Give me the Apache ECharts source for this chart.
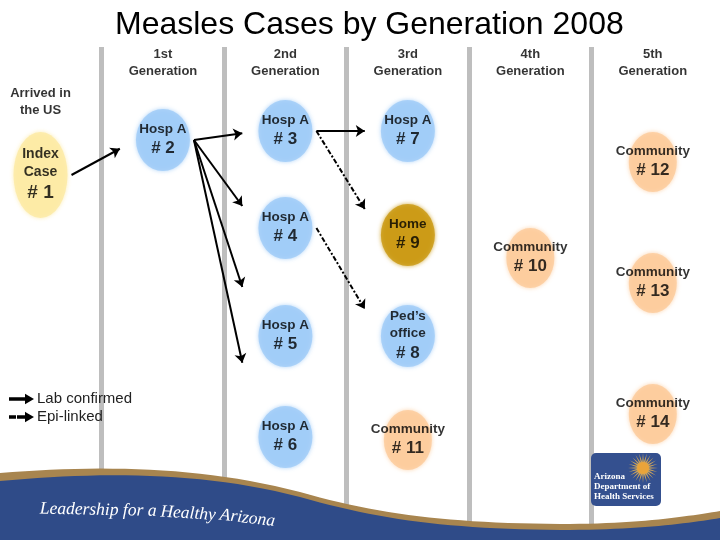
<!DOCTYPE html>
<html><head><meta charset="utf-8">
<script src="https://cdn.jsdelivr.net/npm/echarts/dist/echarts.min.js"></script>
<style>html,body{margin:0;padding:0;background:#fff}#c{width:720px;height:540px}</style>
</head><body><div id="c"></div>
<script>
// ---------- data ----------
const chartTitle = 'Measles Cases by Generation 2008';
const generationLabels = ['Arrived in\nthe US', '1st\nGeneration', '2nd\nGeneration', '3rd\nGeneration', '4th\nGeneration', '5th\nGeneration'];
const generationIndex = [0, 1, 2, 3, 4, 5];
const caseNumbers = [1, 2, 3, 4, 5, 6, 7, 8, 9, 10, 11, 12, 13, 14];
const caseSites = ['Index Case', 'Hosp A', 'Hosp A', 'Hosp A', 'Hosp A', 'Hosp A', 'Hosp A', 'Ped\u2019s office', 'Home', 'Community', 'Community', 'Community', 'Community', 'Community'];
const caseGenerations = [0, 1, 2, 2, 2, 2, 3, 3, 3, 4, 3, 5, 5, 5];
const caseLanes = [175, 140, 131, 228, 336, 437, 131, 336, 235, 258, 440, 162, 283, 414]; // vertical lane in diagram
const labConfirmedLinks = [[1, 2], [2, 3], [2, 4], [2, 5], [2, 6], [3, 7]];
const epiLinkedLinks = [[3, 9], [4, 8]];
const legendNames = ['Lab confirmed', 'Epi-linked'];

// ---------- styles ----------
const siteStyle = {
  'Index Case': { color: '#FCEAA2', size: [54, 86], s: 14, n: 19 },
  'Hosp A': { color: '#9ECBF8', size: [54, 62], s: 13.5, n: 17 },
  'Ped\u2019s office': { color: '#9ECBF8', size: [54, 62], s: 13.5, n: 17 },
  'Home': { color: '#C9970E', size: [54, 62], s: 13.5, n: 17 },
  'Community': { color: '#FDCA9A', size: [48, 60], s: 13.5, n: 17 }
};
const FONT = '"Liberation Sans", Arial, Helvetica, sans-serif';
const X_MIN = -0.3307, X_MAX = 5.5488;
const HEADER_LANE_TOP = 63, HEADER_LANE_ARRIVED = 102, SEP_TOP = 47, SEP_BOTTOM = 540;

const chart = echarts.init(document.getElementById('c'), null, { renderer: 'canvas' });

const nodeData = caseNumbers.map((n, i) => {
  const st = siteStyle[caseSites[i]];
  const siteText = caseSites[i] === 'Hosp A' || caseSites[i] === 'Community' ? caseSites[i] : caseSites[i].split(' ').join('\n');
  const lines = siteText.split('\n').map(t => '{s|' + t + '}');
  return {
    name: '#' + n,
    value: [caseGenerations[i], caseLanes[i]],
    symbolSize: st.size,
    itemStyle: { color: st.color, shadowColor: st.color, shadowBlur: 4 },
    label: {
      formatter: lines.join('\n') + '\n{n|# ' + n + '}',
      rich: {
        s: { fontSize: st.s, fontWeight: 'bold', lineHeight: st.s + 4, color: '#000', fontFamily: FONT },
        n: { fontSize: st.n, fontWeight: 'bold', lineHeight: st.n + 5, color: '#000', fontFamily: FONT }
      }
    }
  };
});

const headerData = generationIndex.map(g => ({
  value: [g, g === 0 ? HEADER_LANE_ARRIVED : HEADER_LANE_TOP],
  label: { formatter: generationLabels[g] }
}));

const separatorData = generationIndex.slice(0, 5).map(g => ({ coords: [[g + 0.5, SEP_TOP], [g + 0.5, SEP_BOTTOM]] }));

// banner decoration (sampled bezier wave)
function wave(p0, segs) {
  const pts = [p0];
  let cur = p0;
  segs.forEach(s => {
    const [c1, c2, e] = s;
    for (let k = 1; k <= 24; k++) {
      const t = k / 24, u = 1 - t;
      pts.push([
        u * u * u * cur[0] + 3 * u * u * t * c1[0] + 3 * u * t * t * c2[0] + t * t * t * e[0],
        u * u * u * cur[1] + 3 * u * u * t * c1[1] + 3 * u * t * t * c2[1] + t * t * t * e[1]
      ]);
    }
    cur = e;
  });
  pts.push([720, 540], [0, 540]);
  return pts;
}
const goldWave = wave([0, 473], [[[100, 465], [200, 466], [300, 492]], [[380, 515], [450, 523], [560, 524]], [[640, 524], [690, 516], [720, 511]]]);
const blueWave = wave([0, 481], [[[100, 472], [200, 471], [300, 497]], [[380, 520], [450, 529], [560, 530]], [[640, 530], [690, 523], [720, 518]]]);

const sunPts = [];
for (let i = 0; i < 48; i++) {
  const a = i * Math.PI / 24, r = i % 2 ? 6 : 15;
  sunPts.push([643 + r * Math.cos(a), 468 + r * Math.sin(a)]);
}
const bannerText = { fill: '#fff', font: 'italic 17.5px "Liberation Serif", "Times New Roman", serif', textBaseline: 'alphabetic' };
const graphicEls = [
  { type: 'polygon', z: 100, shape: { points: goldWave }, style: { fill: '#A8854F' } },
  { type: 'polygon', z: 101, shape: { points: blueWave }, style: { fill: '#2F4B88' } },
  { type: 'text', z: 102, x: 40, y: 500, rotation: -0.02, style: Object.assign({ text: 'Leadership for a' }, bannerText) },
  { type: 'text', z: 102, x: 161, y: 503, rotation: -0.06, style: Object.assign({ text: 'Healthy' }, bannerText) },
  { type: 'text', z: 102, x: 221, y: 506, rotation: -0.12, style: Object.assign({ text: 'Arizona' }, bannerText) },
  { type: 'rect', z: 100, shape: { x: 591, y: 453, width: 70, height: 53, r: 5 }, style: { fill: '#34508F' } },
  { type: 'polygon', z: 101, shape: { points: sunPts }, style: { fill: '#C8A25E' } },
  { type: 'circle', z: 102, shape: { cx: 643, cy: 468, r: 6 }, style: { fill: '#E9A43A' } },
  { type: 'text', z: 103, x: 594, y: 477, style: { text: 'Arizona', fill: '#fff', font: 'bold 9px "Liberation Serif", serif', textVerticalAlign: 'middle' } },
  { type: 'text', z: 103, x: 594, y: 487, style: { text: 'Department of', fill: '#fff', font: 'bold 9px "Liberation Serif", serif', textVerticalAlign: 'middle' } },
  { type: 'text', z: 103, x: 594, y: 497, style: { text: 'Health Services', fill: '#fff', font: 'bold 9px "Liberation Serif", serif', textVerticalAlign: 'middle' } }
];

chart.setOption({
  animation: false,
  backgroundColor: '#ffffff',
  title: { text: chartTitle, left: 110, top: 4, textStyle: { fontSize: 32, fontWeight: 'normal', color: '#000', fontFamily: FONT } },
  grid: { left: 0, right: 0, top: 0, bottom: 0 },
  xAxis: { type: 'value', min: X_MIN, max: X_MAX, show: false },
  yAxis: { type: 'value', min: 0, max: 540, inverse: true, show: false },
  legend: {
    left: 4, top: 385, orient: 'vertical', itemGap: 0, itemWidth: 22, itemHeight: 8, selectedMode: false,
    textStyle: { fontSize: 15, color: '#222', fontFamily: FONT, lineHeight: 18 },
    data: [
      { name: legendNames[0], icon: 'path://M0,3.2L16,3.2L16,0.5L22,4L16,7.5L16,4.8L0,4.8Z' },
      { name: legendNames[1], icon: 'path://M0,3.2L5,3.2L5,4.8L0,4.8Z M8,3.2L10,3.2L10,4.8L8,4.8Z M12,3.2L16,3.2L16,4.8L12,4.8Z M16,0.5L22,4L16,7.5Z' }
    ]
  },
  graphic: { elements: graphicEls },
  series: [
    { id: 'sep', type: 'lines', coordinateSystem: 'cartesian2d', silent: true, z: 1, symbol: 'none',
      lineStyle: { color: '#BEBEBE', width: 5, opacity: 1 }, data: separatorData },
    { id: 'head', type: 'scatter', symbolSize: 0, silent: true, z: 3, data: headerData,
      label: { show: true, position: 'inside', fontSize: 13, fontWeight: 'bold', lineHeight: 17, color: '#000', fontFamily: FONT } },
    { id: 'nodes', type: 'scatter', symbol: 'circle', z: 4, data: nodeData, label: { show: true, position: 'inside' } },
    { id: 'lab', name: legendNames[0], type: 'lines', coordinateSystem: 'cartesian2d', z: 5, symbol: ['none', 'arrow'], symbolSize: 9,
      lineStyle: { color: '#000', width: 2, opacity: 1 }, data: [] },
    { id: 'epi', name: legendNames[1], type: 'lines', coordinateSystem: 'cartesian2d', z: 5, symbol: ['none', 'arrow'], symbolSize: 9,
      lineStyle: { color: '#000', width: 2, opacity: 1, type: [5, 2, 2, 2] }, data: [] }
  ]
});

function linkCoords(link) {
  const a = link[0] - 1, b = link[1] - 1;
  const pa = chart.convertToPixel({ gridIndex: 0 }, [caseGenerations[a], caseLanes[a]]);
  const pb = chart.convertToPixel({ gridIndex: 0 }, [caseGenerations[b], caseLanes[b]]);
  const ra = siteStyle[caseSites[a]].size[0] / 2;
  const rb = siteStyle[caseSites[b]].size[0] / 2;
  const start = [pa[0] + ra + 4, pa[1]];
  const tgt = [pb[0] - rb, pb[1]];
  const end = [start[0] + (tgt[0] - start[0]) * 0.75, start[1] + (tgt[1] - start[1]) * 0.75];
  return { coords: [chart.convertFromPixel({ gridIndex: 0 }, start), chart.convertFromPixel({ gridIndex: 0 }, end)] };
}

chart.setOption({
  series: [
    { id: 'lab', data: labConfirmedLinks.map(linkCoords) },
    { id: 'epi', data: epiLinkedLinks.map(linkCoords) }
  ]
});
</script>
</body></html>
